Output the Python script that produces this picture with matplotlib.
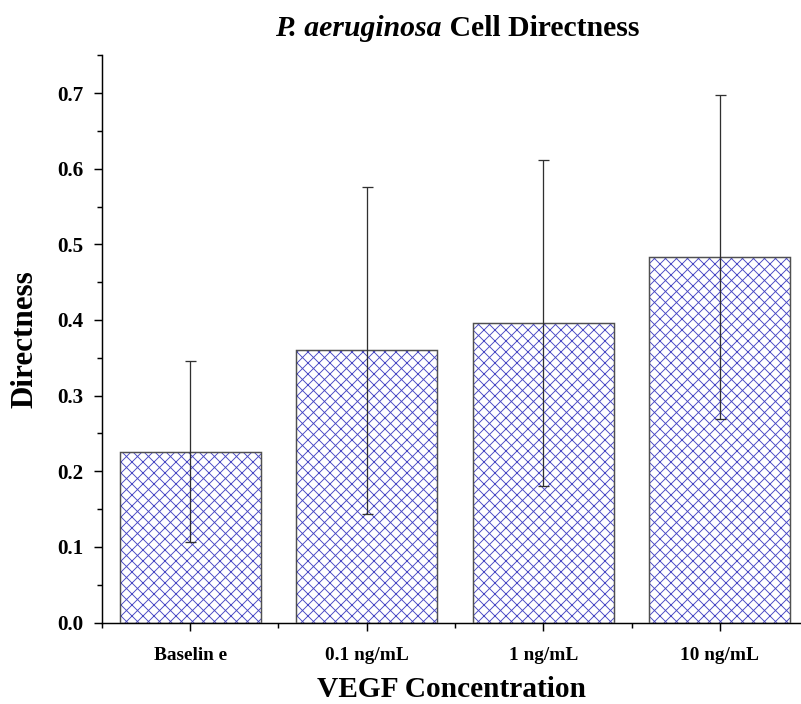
import numpy as np
import matplotlib
matplotlib.use("Agg")
import matplotlib.pyplot as plt
from matplotlib.ticker import FixedLocator, MultipleLocator, FormatStrFormatter

# values
groups = ["Baselin e", "0.1 ng/mL", "1 ng/mL", "10 ng/mL"]
means = [0.226, 0.360, 0.396, 0.483]
errors = [0.120, 0.216, 0.216, 0.214]

plt.rcParams["font.family"] = ["Liberation Serif", "DejaVu Serif"]
plt.rcParams["font.weight"] = "bold"
plt.rcParams["axes.labelweight"] = "bold"
plt.rcParams["hatch.linewidth"] = 1.0

DPI = 66
fig = plt.figure(figsize=(801 / DPI, 704 / DPI), dpi=DPI)
ax = fig.add_axes([0.1273, 0.1156, 0.8727, 0.806])

x = np.arange(len(groups))
# hatched fill, then the grey outline on top
ax.bar(x, means, width=0.8, color="white", edgecolor="#4848c4",
       hatch="xx", linewidth=0, zorder=2)
ax.bar(x, means, width=0.8, color="none", edgecolor="#505050",
       linewidth=1.6, zorder=3)
ax.errorbar(x, means, yerr=errors, fmt="none", ecolor="#303030",
            elinewidth=1.4, capsize=6, capthick=1.4, zorder=4)

ax.set_xlim(-0.5, 3.46)
ax.set_ylim(0, 0.75)
ax.set_xticks(x)
ax.set_xticklabels(groups)
ax.xaxis.set_minor_locator(FixedLocator([-0.5, 0.5, 1.5, 2.5]))
ax.yaxis.set_major_locator(MultipleLocator(0.1))
ax.yaxis.set_minor_locator(MultipleLocator(0.05))
ax.yaxis.set_major_formatter(FormatStrFormatter("%.1f"))

for s in ("top", "right"):
    ax.spines[s].set_visible(False)
for s in ("left", "bottom"):
    ax.spines[s].set_linewidth(1.6)

ax.tick_params(which="major", length=9, width=1.6, direction="out")
ax.tick_params(which="minor", length=5, width=1.6, direction="out")
ax.tick_params(axis="x", which="major", labelsize=21, pad=18)
ax.tick_params(axis="y", which="major", labelsize=23, pad=11)

ax.set_xlabel("VEGF Concentration", fontsize=32, labelpad=13)
ax.set_ylabel("Directness", fontsize=34, labelpad=20)

# title with italic species name
t1 = fig.text(275 / 801, 1 - 28 / 704, "P. aeruginosa", fontsize=32.5,
              style="italic", fontweight="bold", ha="left", va="center")
ax.annotate(" Cell Directness", xy=(1, 0.5), xycoords=t1, fontsize=32.5,
            fontweight="bold", ha="left", va="center")

fig.savefig("out.png", dpi=DPI, facecolor="white")
